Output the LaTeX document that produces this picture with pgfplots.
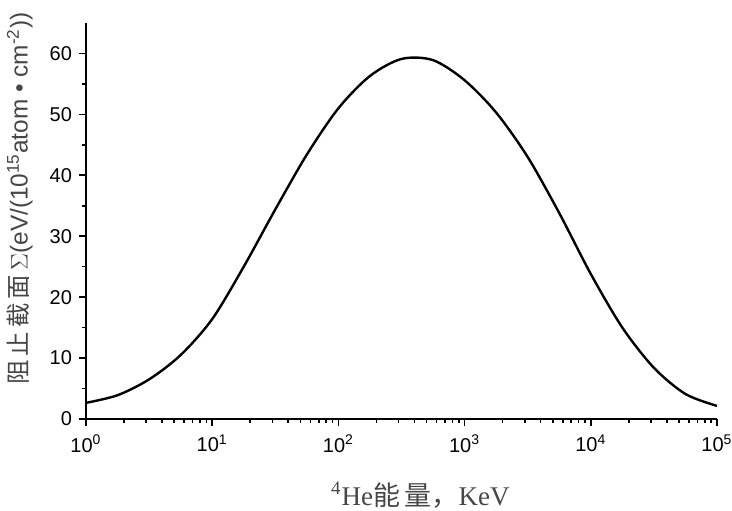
\documentclass[border=0pt]{standalone}
\usepackage{pgfplots}
\pgfplotsset{compat=1.18}
\usepackage{fontspec}
\setmainfont{Liberation Sans}
\newfontfamily\cjk{Noto Sans CJK SC}
\newfontfamily\tnr{Liberation Serif}
\definecolor{labelgray}{RGB}{70,70,70}

\begin{document}
\begin{tikzpicture}
\begin{axis}[
  scale only axis,
  width=315.5pt, height=198pt,
  xmode=log,
  xmin=1, xmax=100000,
  ymin=0, ymax=65,
  axis x line*=bottom,
  axis y line*=left,
  axis line style={line width=1pt},
  tick align=outside,
  major tick length=3.5pt,
  minor tick length=2pt,
  every tick/.style={line width=0.8pt, black},
  ytick={0,10,20,30,40,50,60},
  minor y tick num=1,
  xtick={1,10,100,1000,10000,100000},
  xticklabels={10\textsuperscript{0},10\textsuperscript{1},10\textsuperscript{2},10\textsuperscript{3},10\textsuperscript{4},10\textsuperscript{5}},
  /pgf/number format/assume math mode=true,
  tick label style={font=\fontsize{10}{12}\selectfont},
  xticklabel style={yshift=-1pt},
  xlabel={\tnr\textsuperscript{4}He\cjk 能\,量，\tnr KeV},
  xlabel style={at={(axis description cs:0.53,-0.192)}, anchor=center, font=\fontsize{13.5}{15}\selectfont, text=labelgray},
  ylabel={\cjk 阻\,止\,截\,面\,\rmfamily $\Sigma$(eV/(10\textsuperscript{15}atom • cm\textsuperscript{-2}))},
  ylabel style={at={(axis description cs:-0.105,0.557)}, anchor=center, rotate=0, font=\fontsize{12.2}{14}\selectfont, text=labelgray},
]
\addplot[black, line width=1.2pt, smooth] coordinates {
  (1, 2.65)
  (1.778, 3.9)
  (3.162, 6.5)
  (5.623, 10.5)
  (10, 16.4)
  (17.78, 25.0)
  (31.62, 34.4)
  (56.23, 43.4)
  (100, 51.0)
  (177.8, 56.3)
  (316.2, 59.1)
  (562.3, 58.9)
  (1000, 55.6)
  (1778, 50.3)
  (3162, 43.0)
  (5623, 33.8)
  (10000, 23.8)
  (17783, 15.0)
  (31623, 8.4)
  (56234, 4.1)
  (100000, 2.15)
};
\end{axis}
\pgfresetboundingbox
\path (current axis.south west) ++(-43pt,-46pt) coordinate (bbl);
\path (current axis.north east) ++(7.5pt,11.5pt) coordinate (btr);
\path[use as bounding box] (bbl) rectangle (btr);
\end{tikzpicture}
\end{document}
